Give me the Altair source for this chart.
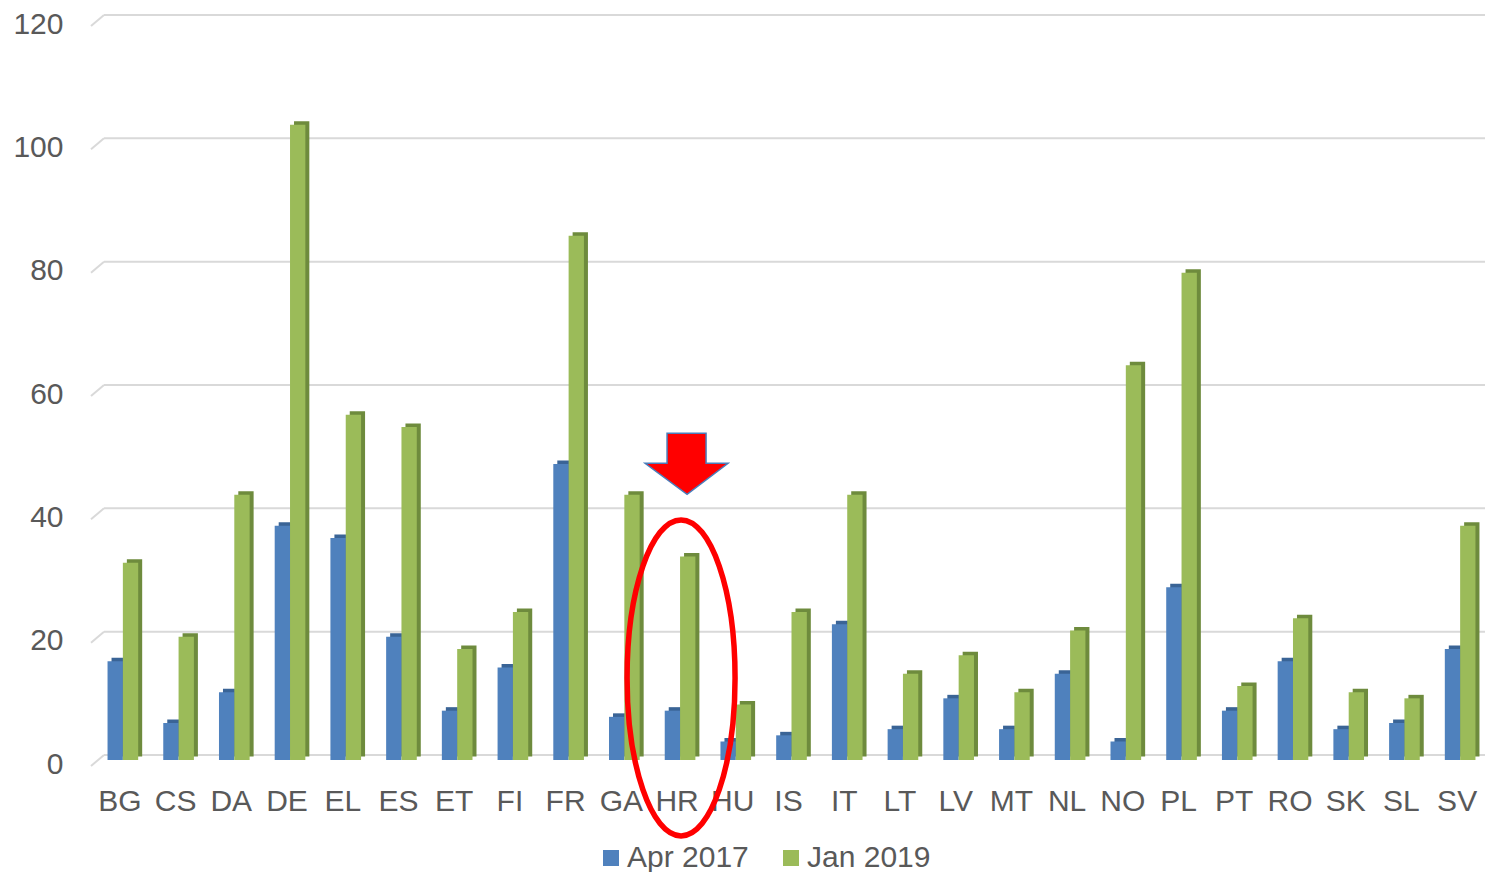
import altair as alt
import pandas as pd

countries = ["BG", "CS", "DA", "DE", "EL", "ES", "ET", "FI", "FR", "GA", "HR", "HU", "IS",
             "IT", "LT", "LV", "MT", "NL", "NO", "PL", "PT", "RO", "SK", "SL", "SV"]
apr_2017 = [16, 6, 11, 38, 36, 20, 8, 15, 48, 7, 8, 3, 4, 22, 5, 10, 5, 14, 3, 28, 8, 16, 5, 6, 18]
jan_2019 = [32, 20, 43, 103, 56, 54, 18, 24, 85, 43, 33, 9, 24, 43, 14, 17, 11, 21, 64, 79, 12, 23, 11, 10, 38]
series_names = ["Apr 2017", "Jan 2019"]
y_ticks = [0, 20, 40, 60, 80, 100, 120]
highlight = "HR"

FONT = "Liberation Sans"
TEXT = "#595959"
front_colors = ["#4F81BD", "#9BBB59"]
side_colors = ["#3A6496", "#6E8B3D"]

rows = []
for name, vals in zip(series_names, [apr_2017, jan_2019]):
    for c, v in zip(countries, vals):
        rows.append({"country": c, "series": name, "value": v})
df = pd.DataFrame(rows)
grid_df = pd.DataFrame({"tick": y_ticks})
ann_df = pd.DataFrame({"country": [highlight], "arrow_y": [47.3], "ellipse_y": [12.5]})

W, H = 1393, 740
P_IN = 0.45
BW = (W / len(countries)) * (1 - P_IN)

x_scale = alt.Scale(domain=countries, paddingInner=P_IN, paddingOuter=P_IN / 2)
y_scale = alt.Scale(domain=[0, 120], nice=False, zero=True)

x_axis = alt.Axis(title=None, labelAngle=0, domain=False, ticks=False, grid=False,
                  labelFont=FONT, labelFontSize=30, labelColor=TEXT,
                  labelPadding=31, labelBaseline="top")
y_axis = alt.Axis(title=None, values=y_ticks, domain=False, ticks=False, grid=False,
                  labelFont=FONT, labelFontSize=30, labelColor=TEXT,
                  labelPadding=29, labelOffset=9)

grid = alt.Chart(grid_df).mark_rule(color="#D9D9D9", strokeWidth=2).encode(
    y=alt.Y("tick:Q", scale=y_scale, axis=y_axis),
    x=alt.value(12), x2=alt.value(W),
)
slant = alt.Chart(grid_df).mark_rule(color="#D9D9D9", strokeWidth=2, yOffset=11, y2Offset=0).encode(
    y=alt.Y("tick:Q", scale=y_scale, axis=y_axis),
    y2=alt.Y2("tick:Q"),
    x=alt.value(-1), x2=alt.value(12),
)

side = alt.Chart(df).mark_bar(yOffset=1.5).encode(
    x=alt.X("country:N", scale=x_scale, sort=countries, axis=x_axis),
    xOffset=alt.XOffset("series:N", sort=series_names,
                        scale=alt.Scale(domain=series_names, range=[7, 7 + BW])),
    y=alt.Y("value:Q", scale=y_scale, axis=y_axis),
    color=alt.Color("series:N", scale=alt.Scale(domain=series_names, range=side_colors), legend=None),
)

front = alt.Chart(df).mark_bar(yOffset=5).encode(
    x=alt.X("country:N", scale=x_scale, sort=countries, axis=x_axis),
    xOffset=alt.XOffset("series:N", sort=series_names,
                        scale=alt.Scale(domain=series_names, range=[3, 3 + BW])),
    y=alt.Y("value:Q", scale=y_scale, axis=y_axis),
    color=alt.Color("series:N", scale=alt.Scale(domain=series_names, range=front_colors),
                    legend=alt.Legend(title=None, orient="none", legendX=504, legendY=828,
                                      direction="horizontal", symbolType="square", symbolSize=256,
                                      symbolStrokeWidth=0, labelFont=FONT, labelFontSize=30,
                                      labelColor=TEXT, labelOffset=1, columnPadding=27, padding=0)),
)

ellipse_path = ("M 4 -158 C 33.8 -158 58 -87.3 58 0 C 58 87.3 33.8 158 4 158 "
                "C -25.8 158 -50 87.3 -50 0 C -50 -87.3 -25.8 -158 4 -158 Z")
arrow_path = "M -10 -30 L 29 -30 L 29 0 L 51 0 L 10 31 L -32 0 L -10 0 Z"

ellipse = alt.Chart(ann_df).mark_point(shape=ellipse_path, size=4, filled=False, stroke="#FF0000",
                                       strokeWidth=5.5, opacity=1).encode(
    x=alt.X("country:N", scale=x_scale, axis=x_axis),
    y=alt.Y("ellipse_y:Q", scale=y_scale, axis=y_axis),
)
arrow = alt.Chart(ann_df).mark_point(shape=arrow_path, size=4, filled=True, fill="#FF0000",
                                     stroke="#4A7EBB", strokeWidth=1.5, opacity=1).encode(
    x=alt.X("country:N", scale=x_scale, axis=x_axis),
    y=alt.Y("arrow_y:Q", scale=y_scale, axis=y_axis),
)

chart = alt.layer(grid, slant, side, front, arrow, ellipse).resolve_scale(
    color="independent", xOffset="independent"
).properties(
    width=W, height=H,
    autosize=alt.AutoSizeParams(type="none"),
    padding={"left": 84, "top": 7, "right": 0, "bottom": 117},
    background="white",
).configure_view(stroke=None)

chart.save("out.html", embed_options={"renderer": "svg", "actions": False})
